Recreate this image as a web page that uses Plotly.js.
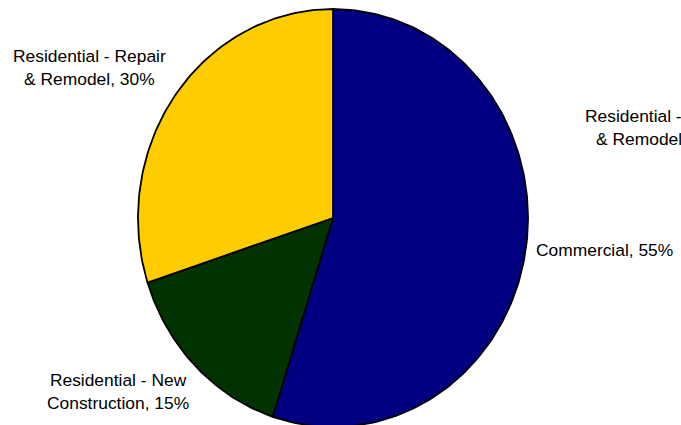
<!DOCTYPE html>
<html>
<head>
<meta charset="utf-8">
<script src="https://cdn.plot.ly/plotly-3.0.1.min.js"></script>
<style>html,body{margin:0;padding:0;background:#fff;}#chart{width:681px;height:425px;}</style>
</head>
<body>
<div id="chart"></div>
<script>
// Data (clockwise from 12 o'clock)
const categories = ['Commercial', 'Residential - New Construction', 'Residential - Repair & Remodel'];
const shares = [55, 15, 30];
const labelTexts = ['Commercial, 55%', 'Residential - New<br>Construction, 15%', 'Residential - Repair<br>& Remodel, 30%'];
const strayLabel = 'Residential - Repair<br>& Remodel, 30%';

// Styles
const colors = ['#000080', '#003300', '#FFCC00'];
const W = 681, H = 425;
const cx = 333, cy = 218, rx = 195, ry = 209;   // ellipse geometry in pixels
const labelPos = [[604.5, 250.5], [118, 391], [89.5, 67]];
const strayPos = [661.5, 128];

const total = shares.reduce((a, b) => a + b, 0);
const traces = [];
let cum = 0;
shares.forEach((s, i) => {
  const a0 = cum / total * 2 * Math.PI;
  cum += s;
  const a1 = cum / total * 2 * Math.PI;
  const n = Math.max(4, Math.ceil((a1 - a0) / (Math.PI / 180)));
  const xs = [0], ys = [0];
  for (let k = 0; k <= n; k++) {
    const t = a0 + (a1 - a0) * k / n;
    xs.push(Math.sin(t));
    ys.push(Math.cos(t));
  }
  xs.push(0); ys.push(0);
  traces.push({
    type: 'scatter', mode: 'lines', x: xs, y: ys, name: categories[i],
    fill: 'toself', fillcolor: colors[i],
    line: {color: '#000000', width: 1.8, shape: 'linear'},
    hoverinfo: 'skip', showlegend: false
  });
});

const font = {family: '"Liberation Sans", Arial, sans-serif', size: 17.4, color: '#000000'};
const annotations = labelTexts.map((t, i) => ({
  text: t, xref: 'paper', yref: 'paper',
  x: labelPos[i][0] / W, y: 1 - labelPos[i][1] / H,
  xanchor: 'center', yanchor: 'middle', align: 'center',
  showarrow: false, font: font
}));
annotations.push({
  text: strayLabel, xref: 'paper', yref: 'paper',
  x: strayPos[0] / W, y: 1 - strayPos[1] / H,
  xanchor: 'center', yanchor: 'middle', align: 'center',
  showarrow: false, font: font
});

const layout = {
  width: W, height: H,
  margin: {l: 0, r: 0, t: 0, b: 0, pad: 0},
  paper_bgcolor: '#ffffff', plot_bgcolor: '#ffffff',
  xaxis: {range: [-cx / rx, (W - cx) / rx], visible: false, fixedrange: true},
  yaxis: {range: [-(H - cy) / ry, cy / ry], visible: false, fixedrange: true},
  showlegend: false,
  annotations: annotations
};

Plotly.newPlot('chart', traces, layout, {displayModeBar: false, staticPlot: true});
</script>
</body>
</html>
